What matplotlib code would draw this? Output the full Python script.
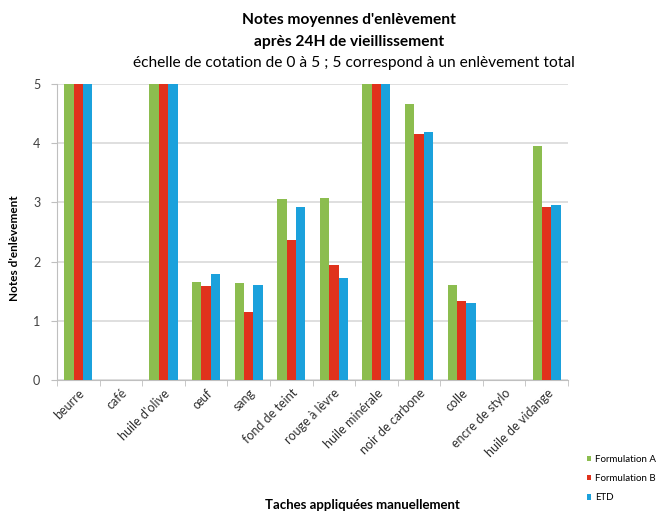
import numpy as np
import matplotlib
matplotlib.use('Agg')
import matplotlib.pyplot as plt

plt.rcParams['font.family'] = ['Lato', 'DejaVu Sans']

categories = ['beurre', 'café', "huile d'olive", 'œuf', 'sang', 'fond de teint',
              'rouge à lèvre', 'huile minérale', 'noir de carbone', 'colle',
              'encre de stylo', 'huile de vidange']
serie1 = [5, 0, 5, 1.65, 1.63, 3.05, 3.08, 5, 4.66, 1.60, 0, 3.95]
serie2 = [5, 0, 5, 1.58, 1.15, 2.37, 1.95, 5, 4.15, 1.34, 0, 2.92]
serie3 = [5, 0, 5, 1.79, 1.60, 2.92, 1.72, 5, 4.19, 1.30, 0, 2.96]
series_names = ['Formulation A', 'Formulation B', 'ETD']
colors = ['#8cbd4f', '#e0321c', '#1ba1dc']

fig = plt.figure(figsize=(6.59, 5.18), dpi=100)
ax = fig.add_axes([0.0865, 0.2664, 0.7755, 0.5716])

x = np.arange(len(categories))
w = 0.22
handles = []
for i, (vals, col) in enumerate(zip([serie1, serie2, serie3], colors)):
    b = ax.bar(x + (i - 1) * w, vals, width=w, color=col, zorder=3)
    handles.append(b)

ax.set_xlim(-0.5, len(categories) - 0.5)
ax.set_ylim(0, 5)
ax.set_yticks(range(6))
ax.yaxis.grid(True, color='#d9d9d9', linewidth=1.2, zorder=0)
ax.tick_params(axis='y', length=4, color='#bfbfbf', labelsize=9, labelcolor='#404040', pad=8)

ax.set_xticks(x)
ax.set_xticklabels(categories, rotation=45, ha='right', rotation_mode='anchor',
                   fontsize=9, color='#303030')
ax.tick_params(axis='x', length=0, pad=5)
ax.set_xticks(np.arange(len(categories) + 1) - 0.5, minor=True)
ax.tick_params(axis='x', which='minor', length=4, color='#bfbfbf')

for s in ['top', 'right']:
    ax.spines[s].set_visible(False)
ax.spines['left'].set_color('#bfbfbf')
ax.spines['bottom'].set_color('#bfbfbf')

fig.text(0.53, 0.961, "Notes moyennes d'enlèvement", ha='center', va='center',
         fontsize=11.2, fontweight='bold')
fig.text(0.53, 0.919, 'après 24H de vieillissement', ha='center', va='center',
         fontsize=11.2, fontweight='bold')
fig.text(0.537, 0.878, 'échelle de cotation de 0 à 5 ; 5 correspond à un enlèvement total',
         ha='center', va='center', fontsize=11.2)

fig.text(0.022, 0.52, "Notes d'enlèvement", rotation=90, ha='center', va='center',
         fontsize=8.5, fontweight='bold')
fig.text(0.55, 0.025, 'Taches appliquées manuellement', ha='center', va='center',
         fontsize=9.5, fontweight='bold')

fig.legend(handles, series_names, loc='upper left', bbox_to_anchor=(0.89, 0.122),
           frameon=False, fontsize=7, handlelength=0.5, handleheight=0.5,
           labelspacing=1.05, handletextpad=0.4, borderpad=0, borderaxespad=0)

fig.savefig('out.png', dpi=100)
